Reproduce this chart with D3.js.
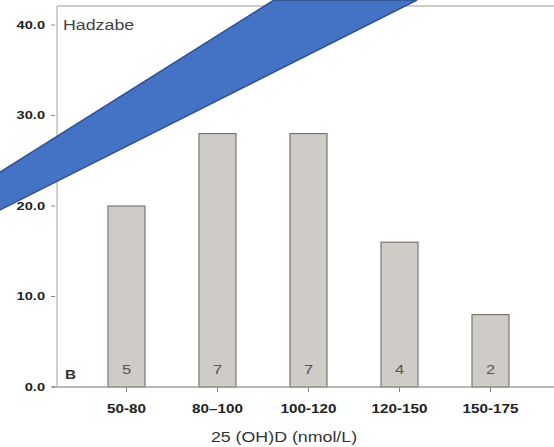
<!DOCTYPE html>
<html>
<head>
<meta charset="utf-8">
<script src="https://cdn.jsdelivr.net/npm/d3@7"></script>
<style>
  html, body { margin: 0; padding: 0; background: #fff; }
  svg { display: block; }
  text { font-family: "Liberation Sans", Arial, sans-serif; }
</style>
</head>
<body>
<svg id="chart" width="554" height="447"></svg>
<script>
// Serum 25(OH)D distribution, Hadzabe (panel B)
const categories = ["50-80", "80–100", "100-120", "120-150", "150-175"];
const percents = [20, 28, 28, 16, 8];
const counts = [5, 7, 7, 4, 2];
const yTicks = [0, 10, 20, 30, 40];
const panelTitle = "Hadzabe";
const panelLetter = "B";
const xTitle = "25 (OH)D (nmol/L)";

const W = 554, H = 447;
const plotLeft = 57, plotTop = 6, plotBottom = 387;
const sx = 1.27; // horizontal widening of the lettering

const svg = d3.select("#chart");

const x = d3.scaleBand()
  .domain(categories)
  .range([plotLeft, 560])
  .paddingInner(0.593)
  .paddingOuter(0.56);

const y = d3.scaleLinear().domain([0, 40]).range([plotBottom, 25]);

function label(g, px, py, str, opts) {
  return g.append("text")
    .attr("transform", `translate(${px},${py}) scale(${sx},1)`)
    .attr("text-anchor", opts.anchor || "middle")
    .attr("dominant-baseline", "central")
    .attr("font-size", opts.size)
    .attr("font-weight", opts.weight || "normal")
    .attr("fill", opts.fill || "#333")
    .text(str);
}

// frame: top and left borders
svg.append("line")
  .attr("x1", plotLeft).attr("x2", W).attr("y1", plotTop).attr("y2", plotTop)
  .attr("stroke", "#cfcdc8").attr("stroke-width", 2);
svg.append("line")
  .attr("x1", plotLeft).attr("x2", plotLeft).attr("y1", plotTop).attr("y2", plotBottom)
  .attr("stroke", "#d2d0cb").attr("stroke-width", 2);

// bars
svg.append("g").selectAll("rect")
  .data(categories)
  .join("rect")
  .attr("x", d => x(d))
  .attr("width", x.bandwidth())
  .attr("y", (d, i) => y(percents[i]))
  .attr("height", (d, i) => y(0) - y(percents[i]))
  .attr("fill", "#cfccc7")
  .attr("stroke", "#706d68")
  .attr("stroke-width", 1.1);

// bottom axis line
svg.append("line")
  .attr("x1", 52).attr("x2", W).attr("y1", plotBottom).attr("y2", plotBottom)
  .attr("stroke", "#a2a09b").attr("stroke-width", 1.5);

// y axis ticks and labels
const yAxis = svg.append("g");
yTicks.forEach(t => {
  yAxis.append("line")
    .attr("x1", 51).attr("x2", 55).attr("y1", y(t)).attr("y2", y(t))
    .attr("stroke", "#888").attr("stroke-width", 1);
  label(yAxis, 45, y(t), d3.format(".1f")(t),
    { anchor: "end", size: 11.5, weight: "bold", fill: "#222" });
});

// x axis ticks and labels
const xAxis = svg.append("g");
categories.forEach(c => {
  const cx = x(c) + x.bandwidth() / 2;
  xAxis.append("line")
    .attr("x1", cx).attr("x2", cx).attr("y1", plotBottom).attr("y2", plotBottom + 5)
    .attr("stroke", "#888").attr("stroke-width", 1);
  label(xAxis, cx, 409, c, { size: 12, weight: "bold", fill: "#222" });
});

// counts inside bars
categories.forEach((c, i) => {
  label(svg, x(c) + x.bandwidth() / 2, 370, String(counts[i]),
    { size: 13, fill: "#555" });
});

// panel texts
label(svg, 63, 25, panelTitle, { anchor: "start", size: 14, fill: "#444" });
label(svg, 65, 375, panelLetter, { anchor: "start", size: 12, weight: "bold", fill: "#333" });
label(svg, 284, 437, xTitle, { size: 14, fill: "#333" });

// blue annotation arrow crossing the upper left
const arrowPts = [[-2, 173.3], [274, 0], [417, 0], [-2, 211]];
svg.append("path")
  .attr("d", d3.line()(arrowPts) + "Z")
  .attr("fill", "#4472c4")
  .attr("stroke", "#2f528f")
  .attr("stroke-width", 1.5);
</script>
</body>
</html>
